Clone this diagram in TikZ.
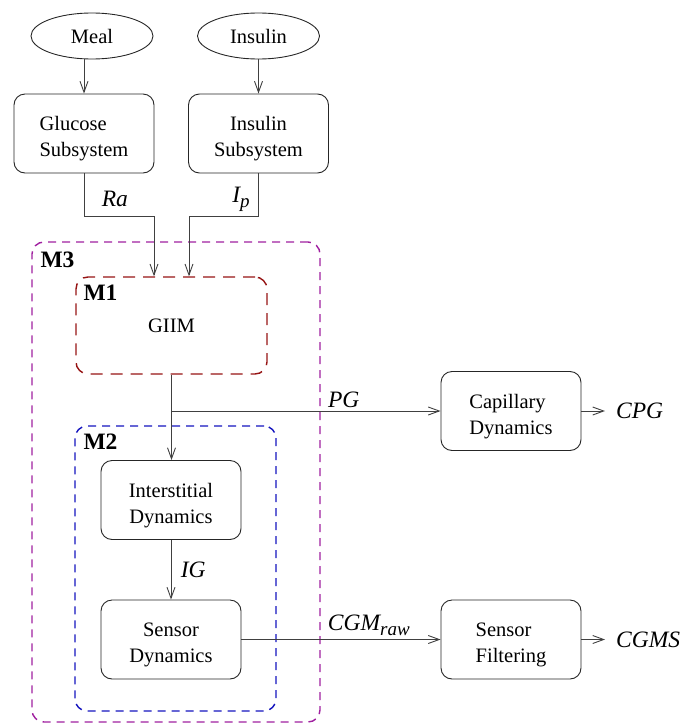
\documentclass[tikz,border=0pt]{standalone}
\usepackage{fontspec}
\setmainfont{Liberation Serif}
\usetikzlibrary{positioning, arrows.meta, shapes.geometric}
\newcommand{\sig}[1]{\fontsize{23.5}{28}\selectfont\itshape #1}
\newcommand{\low}[1]{\raisebox{-5pt}{\fontsize{19}{19}\selectfont\itshape #1}}
\newcommand{\twolines}[2]{\rule{0pt}{25pt}#1\\#2}
\tikzset{
  >={Straight Barb[length=11pt,width=8pt]},
  every node/.style={font=\fontsize{20.5}{26}\selectfont},
  wire/.style={draw=black!75, line width=0.9pt},
  block/.style={draw=black!85, line width=0.9pt, rounded corners=11pt,
    minimum width=140pt, minimum height=79pt, align=center},
  source/.style={draw=black!85, line width=0.9pt, ellipse,
    minimum width=122pt, minimum height=46pt},
  group/.style={line width=1.4pt, rounded corners=12pt, dash pattern=on 8pt off 6pt},
  tag/.style={font=\fontsize{23.5}{28}\selectfont\bfseries, anchor=north west, inner sep=0pt},
  outlabel/.style={anchor=west, inner xsep=11pt, inner ysep=2pt},
}
\definecolor{mthree}{RGB}{160,32,160}
\definecolor{mone}{RGB}{150,20,20}
\definecolor{mtwo}{RGB}{20,20,190}

\begin{document}
\begin{tikzpicture}[x=1pt, y=-1pt]
  \useasboundingbox (0,0) rectangle (696,726);

  % groups
  \node[group, draw=mthree, minimum width=288pt, minimum height=480pt] (m3) at (176,482) {};
  \node[group, draw=mone, dash pattern=on 12pt off 8pt, minimum width=191pt, minimum height=97pt] (m1) at (171.5,325.5) {GIIM};
  \node[group, draw=mtwo, minimum width=201pt, minimum height=285pt] (m2) at (175.5,568.5) {};
  \node[tag] (m3tag) at ([xshift=9pt, yshift=-10pt]m3.north west) {M3};
  \node[tag] (m1tag) at ([xshift=8pt, yshift=-8pt]m1.north west) {M1};
  \node[tag] (m2tag) at ([xshift=9pt, yshift=-8pt]m2.north west) {M2};

  % inputs
  \node[source] (meal) at (92,36) {Meal};
  \node[source] (insulin) at (258.5,36) {Insulin};
  \node[block, align=left] (glucose) at (84,133.5) {\twolines{Glucose}{Subsystem}};
  \node[block] (insulinsys) at (258.5,133.5) {\twolines{Insulin}{Subsystem}};

  % model blocks
  \node[block] (interstitial) at (171,500) {\twolines{Interstitial}{Dynamics}};
  \node[block] (sensor) at (171,639.5) {\twolines{Sensor}{Dynamics}};
  \node[block, align=left] (capillary) at (511,411) {\twolines{Capillary}{Dynamics}};
  \node[block, align=left] (filtering) at (511,639.5) {\twolines{Sensor}{Filtering}};

  % outputs
  \node[outlabel] (cpg) at (605,411) {\sig{CPG}};
  \node[outlabel] (cgms) at (605,639.5) {\sig{CGMS}};
  \coordinate (pgsplit) at (m1.south |- capillary.west);

  % connections
  \draw[wire, ->] (glucose.north |- meal.south) -- (glucose.north);
  \draw[wire, ->] (insulin.south) -- (insulinsys.north);
  \draw[wire, ->] (glucose.south) -- node[right=14pt, pos=0.6] {\sig{Ra}} ++(0,43)
    -| ([xshift=-17.5pt]m1.north);
  \draw[wire, ->] (insulinsys.south) -- node[left=5pt, pos=0.6] {\sig{I}\low{p}} ++(0,43)
    -| ([xshift=17.5pt]m1.north);
  \draw[wire, ->] (m1.south) -- (m1.south |- interstitial.north);
  \draw[wire, ->] (pgsplit) -- node[above, pos=0.64] {\sig{PG}} (capillary.west);
  \draw[wire, ->] (interstitial.south) -- node[right=6pt] {\sig{IG}} (sensor.north);
  \draw[wire, ->] (sensor.east) -- node[above, pos=0.64] {\sig{CGM}\low{raw}} (filtering.west);
  \draw[wire, ->] (capillary.east) -- (cpg.west);
  \draw[wire, ->] (filtering.east) -- (cgms.west);
\end{tikzpicture}
\end{document}
